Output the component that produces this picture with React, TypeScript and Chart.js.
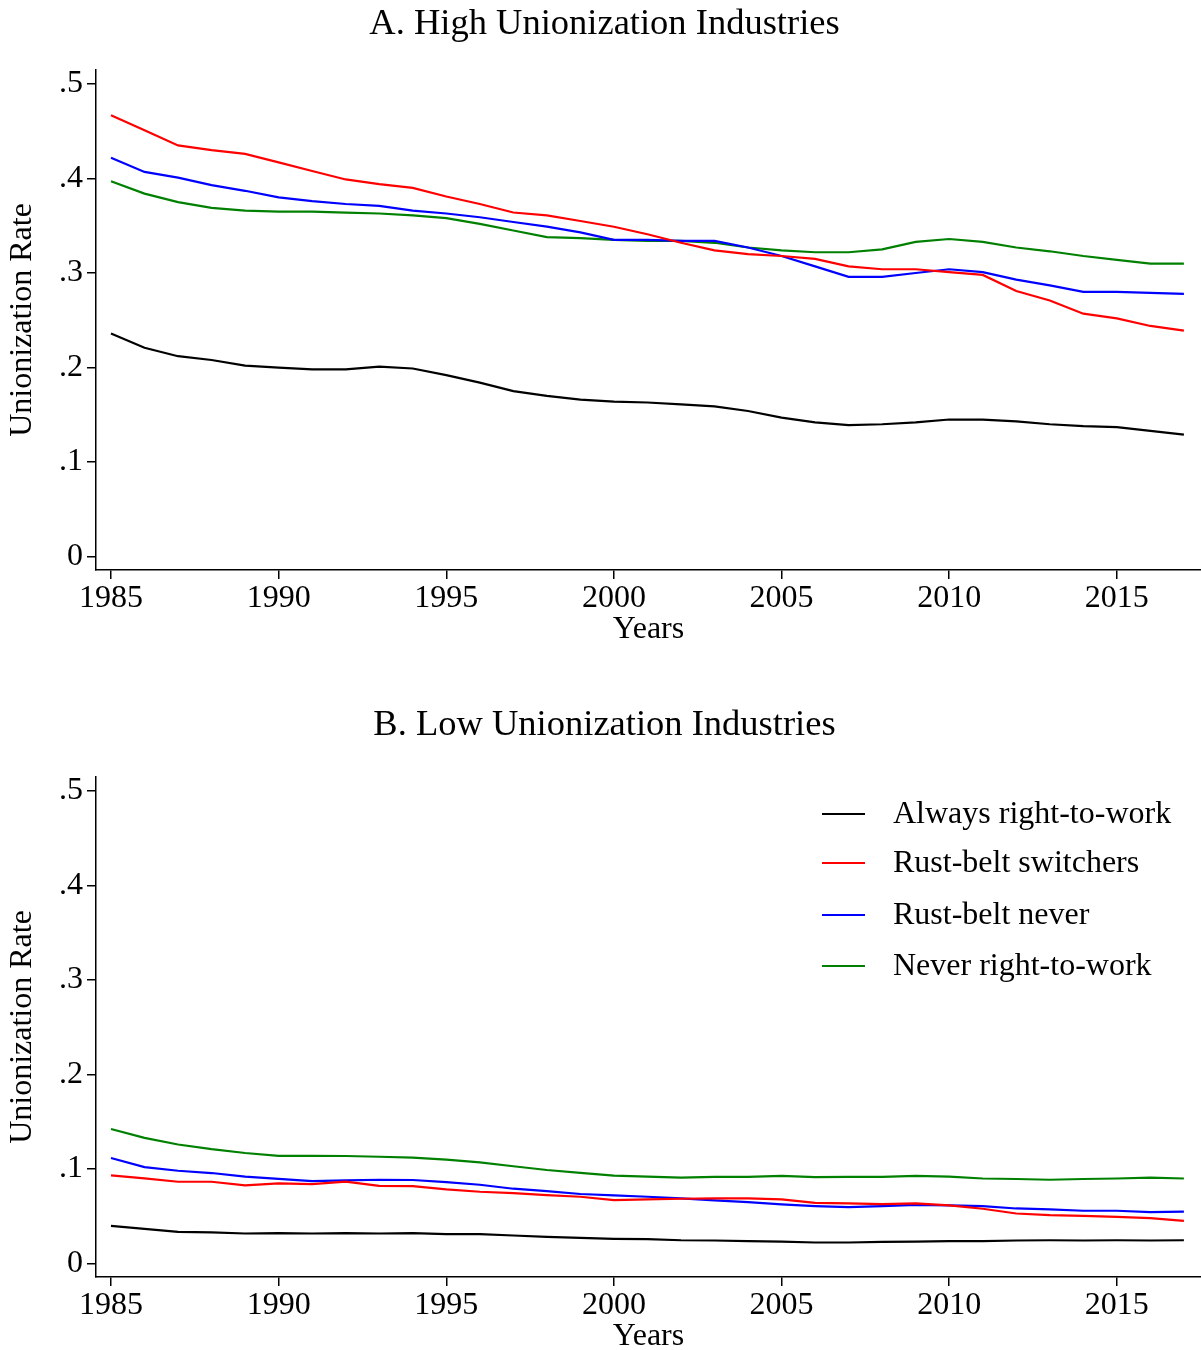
import React, { useEffect, useRef } from "react";
import { Chart, registerables } from "chart.js";

Chart.register(...registerables);

// Survey years on the horizontal axis
const YEARS = [
  1985, 1986, 1987, 1988, 1989, 1990, 1991, 1992, 1993, 1994, 1995,
  1996, 1997, 1998, 1999, 2000, 2001, 2002, 2003, 2004, 2005, 2006,
  2007, 2008, 2009, 2010, 2011, 2012, 2013, 2014, 2015, 2016, 2017,
];

const X_TICKS = [1985, 1990, 1995, 2000, 2005, 2010, 2015];
const Y_TICKS = [0, 0.1, 0.2, 0.3, 0.4, 0.5];

const SERIES_LABELS = [
  "Always right-to-work",
  "Rust-belt switchers",
  "Rust-belt never",
  "Never right-to-work",
];
const SERIES_COLORS = ["#000000", "#ff0000", "#0000ff", "#008000"];

// Panel A: high unionization industries
const highAlwaysRTW = [
  0.236, 0.221, 0.212, 0.208, 0.202, 0.2, 0.198, 0.198, 0.201, 0.199, 0.192,
  0.184, 0.175, 0.17, 0.166, 0.164, 0.163, 0.161, 0.159, 0.154, 0.147, 0.142,
  0.139, 0.14, 0.142, 0.145, 0.145, 0.143, 0.14, 0.138, 0.137, 0.133, 0.129,
];
const highSwitchers = [
  0.467, 0.451, 0.435, 0.43, 0.426, 0.417, 0.408, 0.399, 0.394, 0.39, 0.381,
  0.373, 0.364, 0.361, 0.355, 0.349, 0.341, 0.332, 0.324, 0.32, 0.318, 0.315,
  0.307, 0.304, 0.304, 0.301, 0.298, 0.281, 0.271, 0.257, 0.252, 0.244, 0.239,
];
const highRustNever = [
  0.422, 0.407, 0.401, 0.393, 0.387, 0.38, 0.376, 0.373, 0.371, 0.366, 0.363,
  0.359, 0.354, 0.349, 0.343, 0.335, 0.335, 0.334, 0.334, 0.327, 0.318, 0.307,
  0.296, 0.296, 0.3, 0.304, 0.301, 0.293, 0.287, 0.28, 0.28, 0.279, 0.278,
];
const highNeverRTW = [
  0.397, 0.384, 0.375, 0.369, 0.366, 0.365, 0.365, 0.364, 0.363, 0.361, 0.358,
  0.352, 0.345, 0.338, 0.337, 0.335, 0.334, 0.334, 0.332, 0.327, 0.324, 0.322,
  0.322, 0.325, 0.333, 0.336, 0.333, 0.327, 0.323, 0.318, 0.314, 0.31, 0.31,
];

// Panel B: low unionization industries
const lowAlwaysRTW = [
  0.0399, 0.0368, 0.0336, 0.033, 0.0318, 0.0322, 0.0318, 0.0322, 0.0318,
  0.0322, 0.0311, 0.0311, 0.0297, 0.0283, 0.0272, 0.0262, 0.0258, 0.0247,
  0.0244, 0.0237, 0.0233, 0.0223, 0.0223, 0.023, 0.0233, 0.0237, 0.0237,
  0.0244, 0.0247, 0.0244, 0.0247, 0.0244, 0.0247,
];
const lowSwitchers = [
  0.0933, 0.0901, 0.0866, 0.0866, 0.0827, 0.0848, 0.0841, 0.0866, 0.0823,
  0.082, 0.0785, 0.076, 0.0746, 0.0725, 0.0707, 0.0672, 0.0679, 0.0686,
  0.069, 0.069, 0.0679, 0.0643, 0.0636, 0.0629, 0.0636, 0.0615, 0.058,
  0.053, 0.0512, 0.0505, 0.0495, 0.048, 0.0452,
];
const lowRustNever = [
  0.1117, 0.102, 0.0982, 0.0958, 0.092, 0.0897, 0.0873, 0.088, 0.0887,
  0.0884, 0.0862, 0.0834, 0.0792, 0.0767, 0.0736, 0.0721, 0.0707, 0.069,
  0.0668, 0.065, 0.0626, 0.0608, 0.0597, 0.0608, 0.0622, 0.0615, 0.0608,
  0.0583, 0.0573, 0.0559, 0.0559, 0.0545, 0.055,
];
const lowNeverRTW = [
  0.1424, 0.133, 0.126, 0.121, 0.117, 0.114, 0.114, 0.1138, 0.113, 0.112,
  0.11, 0.107, 0.103, 0.099, 0.096, 0.093, 0.092, 0.091, 0.0917, 0.0917,
  0.0928, 0.0915, 0.0917, 0.0917, 0.0928, 0.092, 0.09, 0.0895, 0.0887,
  0.0895, 0.09, 0.091, 0.09,
];

const SERIF = "'Liberation Serif', 'Times New Roman', Times, serif";
const AREA_TOP = 70;
const AREA_BOTTOM = 570;
const AXIS_LEFT = 96;
const X_TITLE_Y = 630;

type PanelProps = {
  title: string;
  series: number[][];
  height: number;
  titleY: number;
  showLegend: boolean;
};

function Panel({ title, series, height, titleY, showLegend }: PanelProps) {
  const canvasRef = useRef<HTMLCanvasElement | null>(null);

  useEffect(() => {
    const canvas = canvasRef.current;
    if (!canvas) return;

    // Panel heading and the in-plot key
    const decor = {
      id: "panelDecor",
      afterDraw(chart: any) {
        const ctx = chart.ctx as CanvasRenderingContext2D;
        ctx.save();
        ctx.fillStyle = "#000";
        ctx.textBaseline = "middle";
        ctx.textAlign = "center";
        ctx.font = `36.5px ${SERIF}`;
        ctx.fillText(title, chart.width / 2 + 4, titleY);
        if (showLegend) {
          const rows = [107, 156, 208, 259];
          chart.data.datasets.forEach((ds: any, i: number) => {
            const y = rows[i];
            ctx.strokeStyle = ds.borderColor;
            ctx.lineWidth = 2;
            ctx.beginPath();
            ctx.moveTo(822, y);
            ctx.lineTo(865, y);
            ctx.stroke();
            ctx.textAlign = "left";
            ctx.font = `32px ${SERIF}`;
            ctx.fillText(ds.label, 893, y + 1);
          });
        }
        ctx.restore();
      },
    };

    const axisFont = { family: SERIF, size: 32, lineHeight: 1 };

    const chart = new Chart(canvas, {
      type: "line",
      data: {
        datasets: series.map((vals, i) => ({
          label: SERIES_LABELS[i],
          data: YEARS.map((yr, j) => ({ x: yr, y: vals[j] })),
          borderColor: SERIES_COLORS[i],
          backgroundColor: SERIES_COLORS[i],
          borderWidth: 2.2,
          pointRadius: 0,
          tension: 0,
          fill: false,
        })),
      },
      options: {
        animation: false,
        responsive: false,
        devicePixelRatio: 1,
        layout: { padding: { top: AREA_TOP, left: 0, right: 0, bottom: 0 } },
        plugins: {
          legend: { display: false },
          title: { display: false },
          tooltip: { enabled: false },
        },
        scales: {
          x: {
            type: "linear",
            min: 1984.553,
            max: 2017.51,
            afterBuildTicks: (s: any) => {
              s.ticks = X_TICKS.map((v) => ({ value: v }));
            },
            afterFit: (s: any) => {
              s.height = height - AREA_BOTTOM;
            },
            grid: {
              drawOnChartArea: false,
              color: "#000",
              lineWidth: 1.5,
              tickLength: 9,
            },
            border: { color: "#000", width: 1.5 },
            ticks: {
              color: "#000",
              font: axisFont,
              padding: 4,
              maxRotation: 0,
              autoSkip: false,
              callback: (v: any) => String(v),
            },
            title: {
              display: true,
              text: "Years",
              color: "#000",
              font: axisFont,
              padding: { top: 0, bottom: height - 16 - X_TITLE_Y },
            },
          },
          y: {
            min: -0.0142,
            max: 0.5148,
            afterBuildTicks: (s: any) => {
              s.ticks = Y_TICKS.map((v) => ({ value: v }));
            },
            afterFit: (s: any) => {
              s.width = AXIS_LEFT;
            },
            grid: {
              drawOnChartArea: false,
              color: "#000",
              lineWidth: 1.5,
              tickLength: 9,
            },
            border: { color: "#000", width: 1.5 },
            ticks: {
              color: "#000",
              font: axisFont,
              padding: 4,
              callback: (v: any) =>
                Number(v) === 0 ? "0" : Number(v).toFixed(1).replace(/^0/, ""),
            },
            title: {
              display: true,
              text: "Unionization Rate",
              color: "#000",
              font: axisFont,
              padding: { top: 7, bottom: 0 },
            },
          },
        },
      },
      plugins: [decor],
    } as any);

    return () => chart.destroy();
  }, [title, series, height, titleY, showLegend]);

  return (
    <canvas
      ref={canvasRef}
      width={1201}
      height={height}
      style={{ display: "block", width: 1201, height }}
    />
  );
}

export default function App() {
  useEffect(() => {
    document.body.style.margin = "0";
  }, []);

  return (
    <div style={{ width: 1201, height: 1350, background: "#fff" }}>
      <Panel
        title="A. High Unionization Industries"
        series={[highAlwaysRTW, highSwitchers, highRustNever, highNeverRTW]}
        height={707}
        titleY={24}
        showLegend={false}
      />
      <Panel
        title="B. Low Unionization Industries"
        series={[lowAlwaysRTW, lowSwitchers, lowRustNever, lowNeverRTW]}
        height={643}
        titleY={18}
        showLegend={true}
      />
    </div>
  );
}
